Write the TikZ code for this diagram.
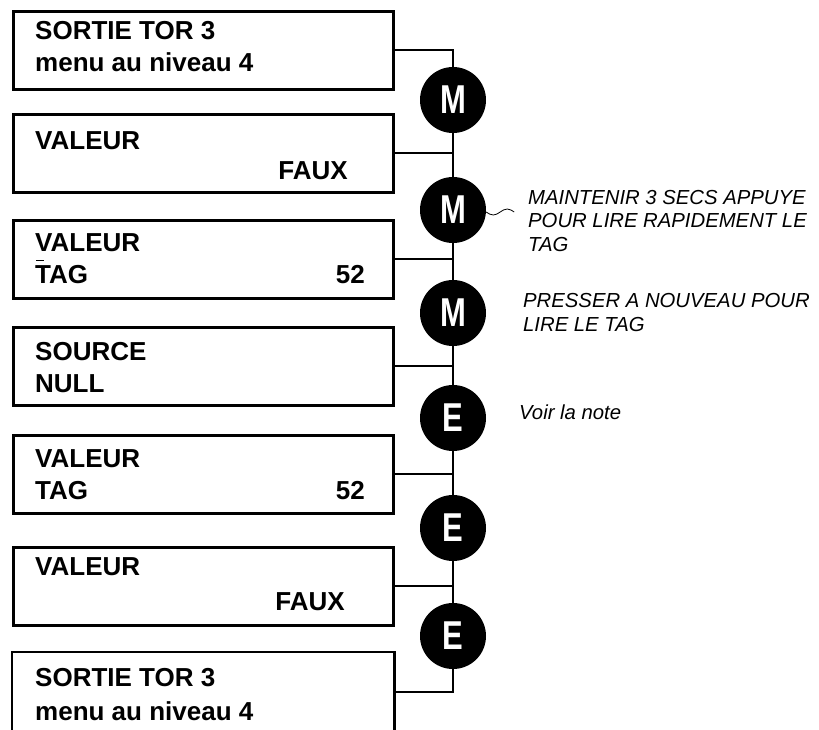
\documentclass[tikz,border=0pt]{standalone}
\usepackage{fontspec}
\setmainfont{Liberation Sans}
\usetikzlibrary{positioning}

\tikzset{
  scrbox/.style={draw, line width=2.5pt, minimum width=380pt, minimum height=78pt, inner sep=0pt, anchor=north west},
  scrtxt/.style={font=\fontsize{26}{26}\selectfont\bfseries, inner sep=0pt, anchor=base west},
  scrval/.style={scrtxt, anchor=base east},
  keyball/.style={circle, fill=black, minimum size=66pt, inner sep=0pt, text=white, font=\fontsize{31}{31}\selectfont\bfseries},
  remark/.style={font=\fontsize{20.3}{23.5}\selectfont\itshape, inner sep=0pt, anchor=base west, align=left},
  link/.style={line width=2pt}
}

\begin{document}
\begin{tikzpicture}[x=1pt, y=-1pt]
    \useasboundingbox (0,0) rectangle (819,729);

    % display boxes
    \node[scrbox] (b1) at (12,10) {};
    \node[scrbox] (b2) at (12,113) {};
    \node[scrbox] (b3) at (12,219) {};
    \node[scrbox] (b4) at (12,326) {};
    \node[scrbox] (b5) at (12,434) {};
    \node[scrbox] (b6) at (12,546) {};
    \node[scrbox, draw=none] (b7) at (12,652) {};
    \draw[line width=2.5pt] (b7.south west) -- (b7.north west) -- (b7.north east) -- (b7.south east); % cut at the bottom

    % box texts
    \node[scrtxt] (b1a) at (35,39) {SORTIE TOR 3};
    \node[scrtxt] (b1b) at (35,71) {menu au niveau 4};
    \node[scrtxt] (b2a) at (35,149) {VALEUR};
    \node[scrval] (b2b) at (348,179) {FAUX};
    \node[scrtxt] (b3a) at (35,251) {VALEUR};
    \node[scrtxt] (b3b) at (35,283) {TAG};
    \node[scrval] (b3c) at (365,283) {52};
    \draw[line width=1.5pt] ([shift={(1pt,4pt)}]b3b.north west) -- ++(8,0); % cursor over T
    \node[scrtxt] (b4a) at (35,360) {SOURCE};
    \node[scrtxt] (b4b) at (35,392) {NULL};
    \node[scrtxt] (b5a) at (35,467) {VALEUR};
    \node[scrtxt] (b5b) at (35,499) {TAG};
    \node[scrval] (b5c) at (365,499) {52};
    \node[scrtxt] (b6a) at (35,575) {VALEUR};
    \node[scrval] (b6b) at (345,610) {FAUX};
    \node[scrtxt] (b7a) at (35,686) {SORTIE TOR 3};
    \node[scrtxt] (b7b) at (35,720) {menu au niveau 4};

    % keys
    \node[keyball] (m1) at (453,100) {\scalebox{1}[1.3]{M}};
    \node[keyball] (m2) at (453,210) {\scalebox{1}[1.3]{M}};
    \node[keyball] (m3) at (453,313) {\scalebox{1}[1.3]{M}};
    \node[keyball] (e1) at (453,418) {\scalebox{1}[1.3]{E}};
    \node[keyball] (e2) at (453,528) {\scalebox{1}[1.3]{E}};
    \node[keyball] (e3) at (453,636) {\scalebox{1}[1.3]{E}};

    % spine and branches
    \draw[link] (b1.east) -| (m1.north);
    \draw[link] (m1.south) -- (m2.north);
    \draw[link] (m2.south) -- (m3.north);
    \draw[link] (m3.south) -- (e1.north);
    \draw[link] (e1.south) -- (e2.north);
    \draw[link] (e2.south) -- (e3.north);
    \draw[link] (e3.south) |- (b7.east);
    \draw[link] (b2.east) -- (b2.east -| m1.south);
    \draw[link] (b3.east) -- (b3.east -| m1.south);
    \draw[link] (b4.east) -- (b4.east -| m1.south);
    \draw[link] (b5.east) -- (b5.east -| m1.south);
    \draw[link] (b6.east) -- (b6.east -| m1.south);

    % remarks
    \draw[line width=0.8pt] ([yshift=-2pt]m2.east) sin ++(7,3) cos ++(7,-3) sin ++(7,-3) cos ++(7,3);
    \node[remark] (r1) at (528,251) {MAINTENIR 3 SECS APPUYE\\POUR LIRE RAPIDEMENT LE\\TAG};
    \node[remark] (r2) at (523,331) {PRESSER A NOUVEAU POUR\\LIRE LE TAG};
    \node[remark] (r3) at (519,419) {Voir la note};
\end{tikzpicture}
\end{document}
